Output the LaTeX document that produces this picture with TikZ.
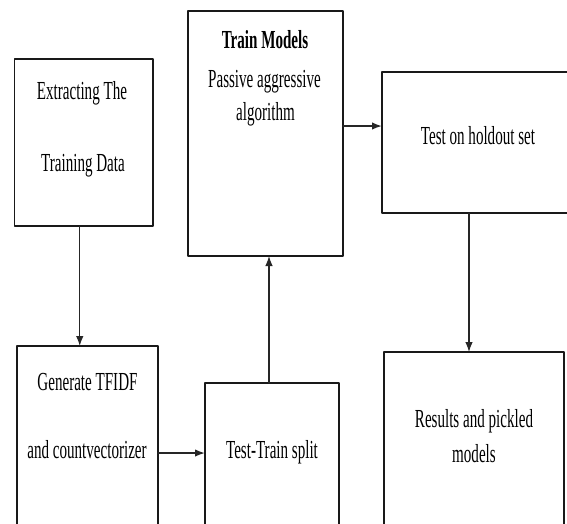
\documentclass[tikz,border=0pt]{standalone}
\usepackage{fontspec}
\setmainfont{Liberation Serif}[FakeStretch=0.58]
\usetikzlibrary{arrows.meta}
\begin{document}
\begin{tikzpicture}[line cap=round,line join=round,>={Latex[length=10pt,width=7.5pt]},x=1pt,y=-1pt,
  box/.style={draw=black!90,line width=1.6pt,inner sep=0pt,outer sep=0pt},
  txt/.style={anchor=base,inner sep=0pt,font=\fontsize{26}{30}\selectfont},
  flow/.style={->,line width=1.2pt,draw=black!85}]
\useasboundingbox (0,0) rectangle (567,523);
\clip (0,0) rectangle (567,523);
\node[box,minimum width=138.5pt,minimum height=167pt] (extract) at (83.75,142.5) {};
\node[box,minimum width=155pt,minimum height=245pt] (train) at (265.5,133.5) {};
\node[box,minimum width=218pt,minimum height=141pt] (holdout) at (491,142.5) {};
\node[box,minimum width=141pt,minimum height=214pt] (generate) at (87.5,453) {};
\node[box,minimum width=134pt,minimum height=177pt] (split) at (272,471.5) {};
\node[box,minimum width=180pt,minimum height=208pt] (results) at (474,456) {};
\node[txt] (extractA) at (82,99) {Extracting The};
\node[txt] (extractB) at (83,171) {Training Data};
\node[txt,font=\fontsize{26}{30}\selectfont\bfseries] (trainA) at (265,48) {Train Models};
\node[txt] (trainB) at (264.5,87) {Passive aggressive};
\node[txt] (trainC) at (265.5,120) {algorithm};
\node[txt] (holdoutA) at (478,144) {Test on holdout set};
\node[txt] (generateA) at (87.5,390) {Generate TFIDF};
\node[txt] (generateB) at (87,458) {and countvectorizer};
\node[txt] (splitA) at (272,458) {Test-Train split};
\node[txt] (resultsA) at (474,427) {Results and pickled};
\node[txt] (resultsB) at (474,462) {models};
\draw[flow] ([xshift=-4pt]extract.south) -- ([xshift=-4pt]extract.south |- generate.north);
\draw[flow,line width=1.6pt] (generate.east) -- (generate.east -| split.west);
\draw[flow] ([xshift=-3pt]split.north) -- ([xshift=-3pt]split.north |- train.south);
\draw[flow,line width=1.6pt] ([yshift=7.5pt]train.east) -- ([yshift=7.5pt]train.east -| holdout.west);
\draw[flow] ([xshift=-5pt]results.north |- holdout.south) -- ([xshift=-5pt]results.north);
\end{tikzpicture}
\end{document}
